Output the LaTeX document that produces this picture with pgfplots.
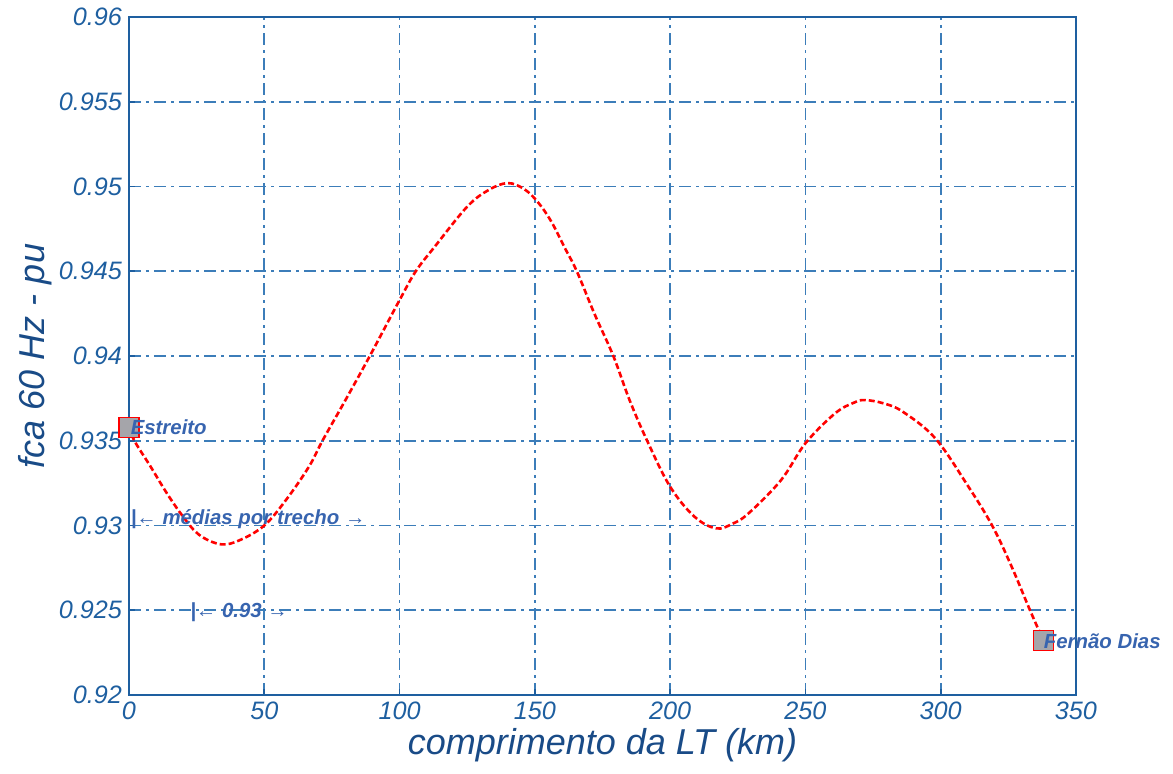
\documentclass[border=0pt]{standalone}
\usepackage{fontspec}
\setmainfont{Liberation Sans}
\usepackage{pgfplots}
\pgfplotsset{compat=1.18}
\definecolor{axblue}{RGB}{30,95,160}
\definecolor{gridblue}{RGB}{60,125,185}
\definecolor{lblblue}{RGB}{25,75,135}
\definecolor{annblue}{RGB}{55,100,175}
\definecolor{mkgray}{RGB}{165,165,170}
\begin{document}
\begin{tikzpicture}
\useasboundingbox (-64.5pt,-39.5pt) rectangle (522pt,347.5pt);
\begin{axis}[
 at={(0,0)}, anchor=south west,
 scale only axis, width=473.5pt, height=339pt,
 xmin=0, xmax=350, ymin=0.92, ymax=0.96,
 clip=false,
 xtick={0,50,100,150,200,250,300,350},
 xticklabels={0,50,100,150,200,250,300,350},
 ytick={0.92,0.925,0.93,0.935,0.94,0.945,0.95,0.955,0.96},
 yticklabels={0.92,0.925,0.93,0.935,0.94,0.945,0.95,0.955,0.96},
 axis line style={axblue, line width=0.8pt},
 tick style={axblue, line width=0.8pt},
 tick align=inside, xtick pos=bottom, ytick pos=left, major tick length=3pt,
 grid=major,
 major grid style={gridblue, line width=0.8pt, dash pattern=on 6pt off 2.5pt on 1.5pt off 2.5pt},
 tick label style={font=\itshape\fontsize{12.6}{14}\selectfont, text=axblue},
 xlabel={comprimento da LT (km)},
 ylabel={fca 60 Hz - pu},
 label style={font=\itshape\fontsize{18}{20}\selectfont, text=lblblue},
 xlabel style={at={(axis description cs:0.5,-0.0737)}, anchor=center},
 ylabel style={at={(axis description cs:-0.0993,0.5)}, anchor=center},
]
\addplot[red, line width=1.3pt, dash pattern=on 3pt off 1.5pt, smooth, tension=0.6] coordinates {
(0,0.93587) (2,0.9350) (8,0.93347) (14,0.9319) (20,0.93052) (26,0.92944)
(34,0.92889) (41,0.92914) (50,0.9300) (58,0.9315) (66.5,0.93347) (71.5,0.9350)
(80,0.9374) (89,0.9400) (100,0.9433) (106,0.9450) (113,0.94645) (125,0.94881)
(133,0.9498) (140,0.9502) (146,0.94985) (151,0.9491) (156,0.94795) (161,0.9464) (165.5,0.9450)
(172,0.9425) (179,0.9400) (185,0.9374) (191.5,0.9350) (200,0.93229) (209,0.93052)
(217,0.92983) (223,0.9301) (229,0.93072) (241,0.93268) (250,0.93485) (261,0.93662)
(268,0.93725) (272,0.9374) (279,0.9372) (286,0.93671) (298,0.93514) (310,0.93235)
(319,0.9300) (326,0.92765) (333,0.9250) (338,0.9232)
};
\addplot[only marks, mark=square*, mark size=5pt, mark options={fill=mkgray, draw=red, line width=0.6pt, solid}] coordinates {(0,0.9358) (338,0.9232)};
\coordinate (E) at (axis cs:0.5,0.9358);
\coordinate (F) at (axis cs:338,0.9232);
\coordinate (M) at (axis cs:0.5,0.9304);
\coordinate (N) at (axis cs:22.5,0.9249);
\end{axis}
\begin{scope}[every node/.style={anchor=west, inner sep=0pt, font=\bfseries\itshape\fontsize{10.2}{12}\selectfont, text=annblue}]
\node at (E) {Estreito};
\node at (F) {Fernão Dias};
\node at (M) {|← médias por trecho →};
\node at (N) {|← 0.93 →};
\end{scope}
\end{tikzpicture}
\end{document}
